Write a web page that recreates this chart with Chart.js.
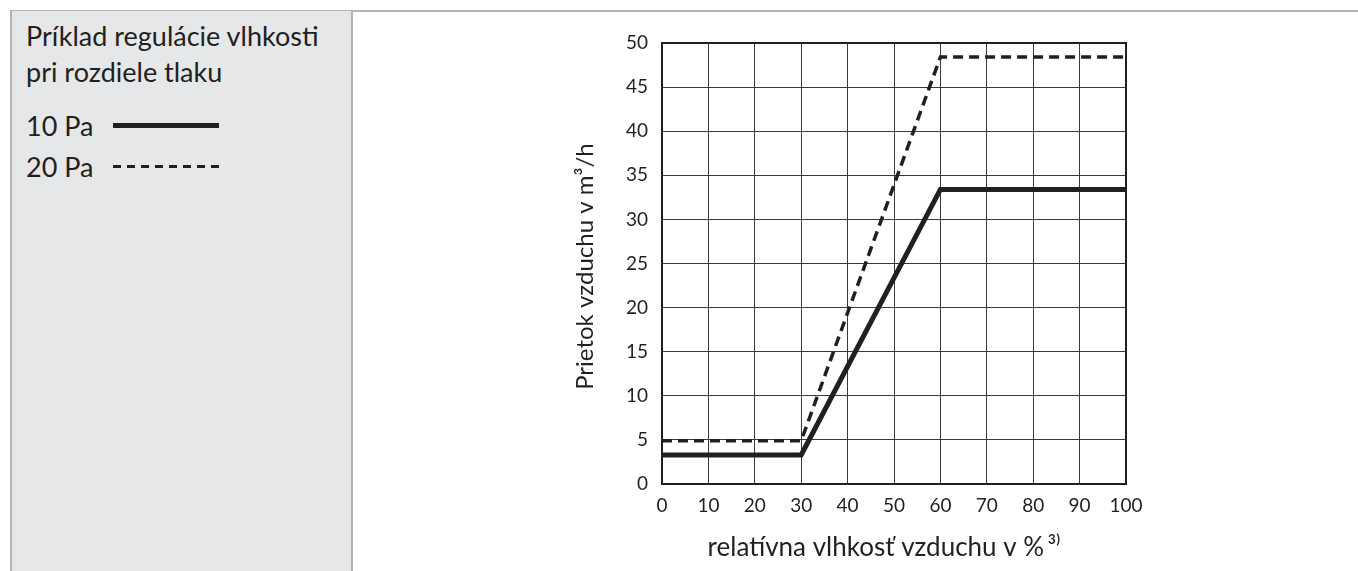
<!DOCTYPE html>
<html>
<head>
<meta charset="utf-8">
<script src="https://cdn.jsdelivr.net/npm/chart.js@4.4.1/dist/chart.umd.min.js"></script>
<style>
  html, body { margin: 0; padding: 0; background: #fff; }
  body { width: 1358px; height: 571px; position: relative; overflow: hidden; font-family: Lato, "Open Sans", sans-serif; }
  #topline { position: absolute; left: 10px; right: 0; top: 10px; height: 0; border-top: 2px solid #b3b3b3; }
  #panel { position: absolute; left: 10px; top: 11px; width: 339px; height: 570px;
           background: #e6e7e8; border-left: 2px solid #b3b3b3; border-right: 2px solid #b3b3b3; }
  #panel .title { position: absolute; left: 14px; top: 7px; font-size: 27px; line-height: 36px; color: #231f20; }
  #legend { position: absolute; left: 14px; top: 94px; }
  .item { height: 41px; display: flex; align-items: center; font-size: 27px; color: #231f20; }
  .item span.lbl { width: 87px; }
  .item span.swatch { width: 106px; height: 0; }
  #wrap { position: absolute; left: 360px; top: 0; width: 998px; height: 571px; }
</style>
</head>
<body>
<div id="topline"></div>
<div id="panel">
  <div class="title">Príklad regulácie vlhkosti<br>pri rozdiele tlaku</div>
  <div id="legend"></div>
</div>
<div id="wrap"><canvas id="chart"></canvas></div>
<script>
// relative humidity (%) break points
const humidity = [0, 30, 60, 100];
// air flow in m3/h
const flow10Pa = [3.3, 3.3, 33.4, 33.4];
const flow20Pa = [4.9, 4.9, 48.4, 48.4];
const seriesLabels = ['10 Pa', '20 Pa'];

const xTicks = [0, 10, 20, 30, 40, 50, 60, 70, 80, 90, 100];
const yTicks = [0, 5, 10, 15, 20, 25, 30, 35, 40, 45, 50];

const points = (ys) => humidity.map((x, i) => ({ x: x, y: ys[i] }));

// legend in the grey side panel
const legend = document.getElementById('legend');
seriesLabels.forEach((lbl, i) => {
  const row = document.createElement('div');
  row.className = 'item';
  const sw = i === 0
    ? 'border-top:5px solid #231f20'
    : 'height:3px;background:repeating-linear-gradient(90deg,#231f20 0 8px,transparent 8px 14px)';
  row.innerHTML = '<span class="lbl">' + lbl + '</span><span class="swatch" style="' + sw + '"></span>';
  legend.appendChild(row);
});

// full frame around the plot
const frame = {
  id: 'frame',
  afterDatasetsDraw(chart) {
    const a = chart.chartArea, ctx = chart.ctx;
    ctx.save();
    ctx.strokeStyle = '#231f20';
    ctx.lineWidth = 2;
    ctx.strokeRect(a.left, a.top, a.right - a.left, a.bottom - a.top);
    ctx.restore();
  }
};

const fam = 'Lato, "Open Sans", sans-serif';

new Chart(document.getElementById('chart'), {
  type: 'line',
  data: {
    datasets: [
      {
        label: seriesLabels[0],
        data: points(flow10Pa),
        borderColor: '#231f20',
        borderWidth: 5,
        pointRadius: 0,
        fill: false
      },
      {
        label: seriesLabels[1],
        data: points(flow20Pa),
        borderColor: '#231f20',
        borderWidth: 3.5,
        borderDash: [10, 6],
        pointRadius: 0,
        fill: false
      }
    ]
  },
  options: {
    responsive: true,
    maintainAspectRatio: false,
    animation: false,
    layout: { padding: { left: 211, right: 232, top: 43, bottom: 8 } },
    plugins: {
      legend: { display: false },
      tooltip: { enabled: false }
    },
    scales: {
      x: {
        type: 'linear',
        min: 0,
        max: 100,
        afterBuildTicks: (s) => { s.ticks = xTicks.map(v => ({ value: v })); },
        afterFit: (s) => { s.height = 79; },
        ticks: { font: { family: fam, size: 19 }, color: '#231f20', padding: 10 },
        grid: { color: '#3a3a3a', lineWidth: 1, tickLength: 0 },
        border: { color: '#231f20', width: 2 },
        title: {
          display: true,
          text: 'relatívna vlhkosť vzduchu v %\u2009\u00b3\u207e   ',
          font: { family: fam, size: 26 },
          color: '#231f20',
          padding: { top: 0, bottom: 0 }
        }
      },
      y: {
        type: 'linear',
        min: 0,
        max: 50,
        afterBuildTicks: (s) => { s.ticks = yTicks.map(v => ({ value: v })); },
        afterFit: (s) => { s.width = 91; },
        ticks: { font: { family: fam, size: 19 }, color: '#231f20', padding: 14 },
        grid: { color: '#3a3a3a', lineWidth: 1, tickLength: 0 },
        border: { color: '#231f20', width: 2 },
        title: {
          display: true,
          text: 'Prietok vzduchu v m\u00b3/h ',
          font: { family: fam, size: 24 },
          color: '#231f20',
          padding: { top: 0, bottom: 0 }
        }
      }
    }
  },
  plugins: [frame]
});
</script>
</body>
</html>
